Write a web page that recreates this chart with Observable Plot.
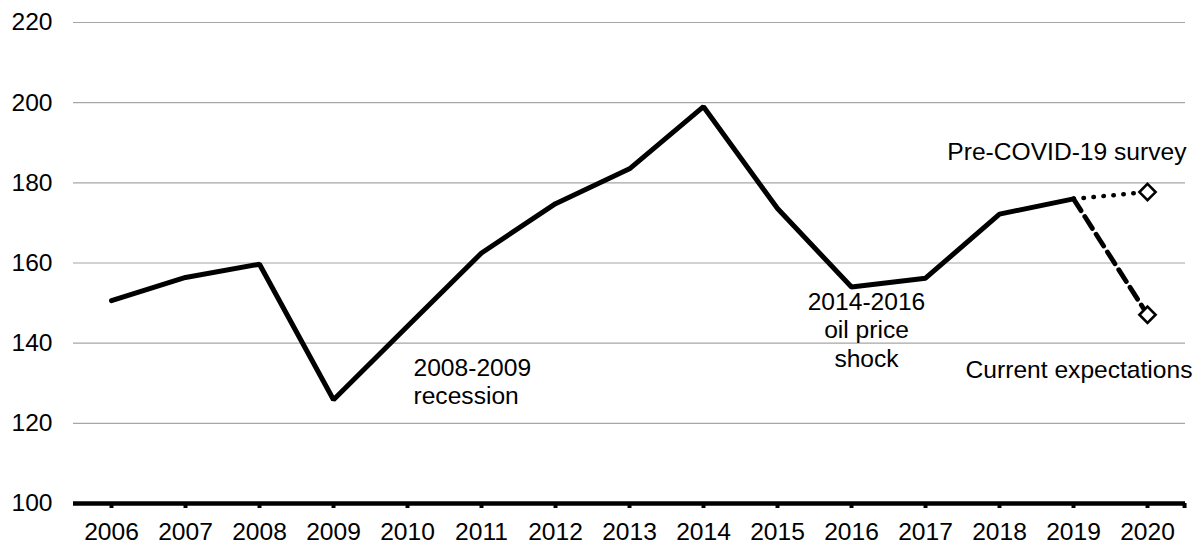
<!DOCTYPE html>
<html>
<head>
<meta charset="utf-8">
<script src="https://cdn.jsdelivr.net/npm/d3@7"></script>
<script src="https://cdn.jsdelivr.net/npm/@observablehq/plot@0.6"></script>
<style>
  body { margin: 0; background: #fff; }
  #chart svg { display: block; }
</style>
</head>
<body>
<div id="chart"></div>
<script>
// ---- data ----
const years = ["2006","2007","2008","2009","2010","2011","2012","2013","2014","2015","2016","2017","2018","2019"];
const values = [150.6, 156.4, 159.7, 125.9, 144.2, 162.5, 174.8, 183.5, 199.0, 173.6, 154.0, 156.2, 172.2, 176.0];
const forecastYear = "2020";
const preCovidValue = 177.7;
const currentValue = 147.1;
const yTicks = [100, 120, 140, 160, 180, 200, 220];
const gridTicks = [120, 140, 160, 180, 200, 220];
const labelRecession = "2008-2009\nrecession";
const labelOil = "2014-2016\noil price\nshock";
const labelPre = "Pre-COVID-19 survey";
const labelCurrent = "Current expectations";

// ---- layout ----
const W = 1197, H = 544, mL = 73, mR = 12, mT = 22, mB = 41;
const FS = 24.6;
const allYears = [...years, forecastYear];
const bw = (W - mL - mR) / allYears.length;

const series = years.map((y, i) => ({year: y, value: values[i]}));
const last = series[series.length - 1];
const preCovid = [last, {year: forecastYear, value: preCovidValue}];
const current = [last, {year: forecastYear, value: currentValue}];
const markers = [preCovid[1], current[1]];

const font = "Arial, 'Liberation Sans', Helvetica, sans-serif";

const chart = Plot.plot({
  width: W,
  height: H,
  marginLeft: mL,
  marginRight: mR,
  marginTop: mT,
  marginBottom: mB,
  style: {fontFamily: font, fontSize: FS + "px", color: "#000", background: "#fff", overflow: "visible"},
  x: {type: "band", domain: allYears, padding: 0, label: null},
  y: {domain: [100, 220], label: null},
  marks: [
    Plot.ruleY(gridTicks, {stroke: "#a6a6a6", strokeWidth: 1.2}),
    Plot.axisY({ticks: yTicks, tickSize: 0, tickPadding: 21, label: null, fontSize: FS, tickFormat: d => String(d)}),
    Plot.ruleY([100], {stroke: "#000", strokeWidth: 4.6}),
    Plot.axisX({tickSize: 5, tickPadding: 14.5, strokeWidth: 4, label: null, fontSize: FS}),
    Plot.ruleX([forecastYear], {x: d => d, y1: 100, y2: 98.75, dx: bw / 2, stroke: "#000", strokeWidth: 4}),
    Plot.line(preCovid, {x: "year", y: "value", stroke: "#000", strokeWidth: 4.5, strokeDasharray: "0.5 9.5", strokeLinecap: "round"}),
    Plot.line(current, {x: "year", y: "value", stroke: "#000", strokeWidth: 4.8, strokeDasharray: "14 7"}),
    Plot.line(series, {x: "year", y: "value", stroke: "#000", strokeWidth: 5, strokeLinejoin: "miter"}),
    Plot.dot(markers, {x: "year", y: "value", symbol: "diamond2", r: 7.3, fill: "#fff", stroke: "#000", strokeWidth: 2.6}),
    Plot.text([labelRecession], {x: () => "2010", y: () => 130.6, text: d => d, textAnchor: "start", dx: 6, lineAnchor: "middle", lineHeight: 1.17, fontSize: FS, fill: "#000"}),
    Plot.text([labelOil], {x: () => "2016", y: () => 143.5, text: d => d, textAnchor: "middle", dx: 15, lineAnchor: "middle", lineHeight: 1.17, fontSize: FS, fill: "#000"}),
    Plot.text([labelPre], {x: () => forecastYear, y: () => 187.6, text: d => d, textAnchor: "end", dx: 39, lineAnchor: "middle", fontSize: FS, fill: "#000"}),
    Plot.text([labelCurrent], {x: () => forecastYear, y: () => 133.3, text: d => d, textAnchor: "end", dx: 45, lineAnchor: "middle", fontSize: FS, fill: "#000"})
  ]
});
document.getElementById("chart").appendChild(chart);
</script>
</body>
</html>
